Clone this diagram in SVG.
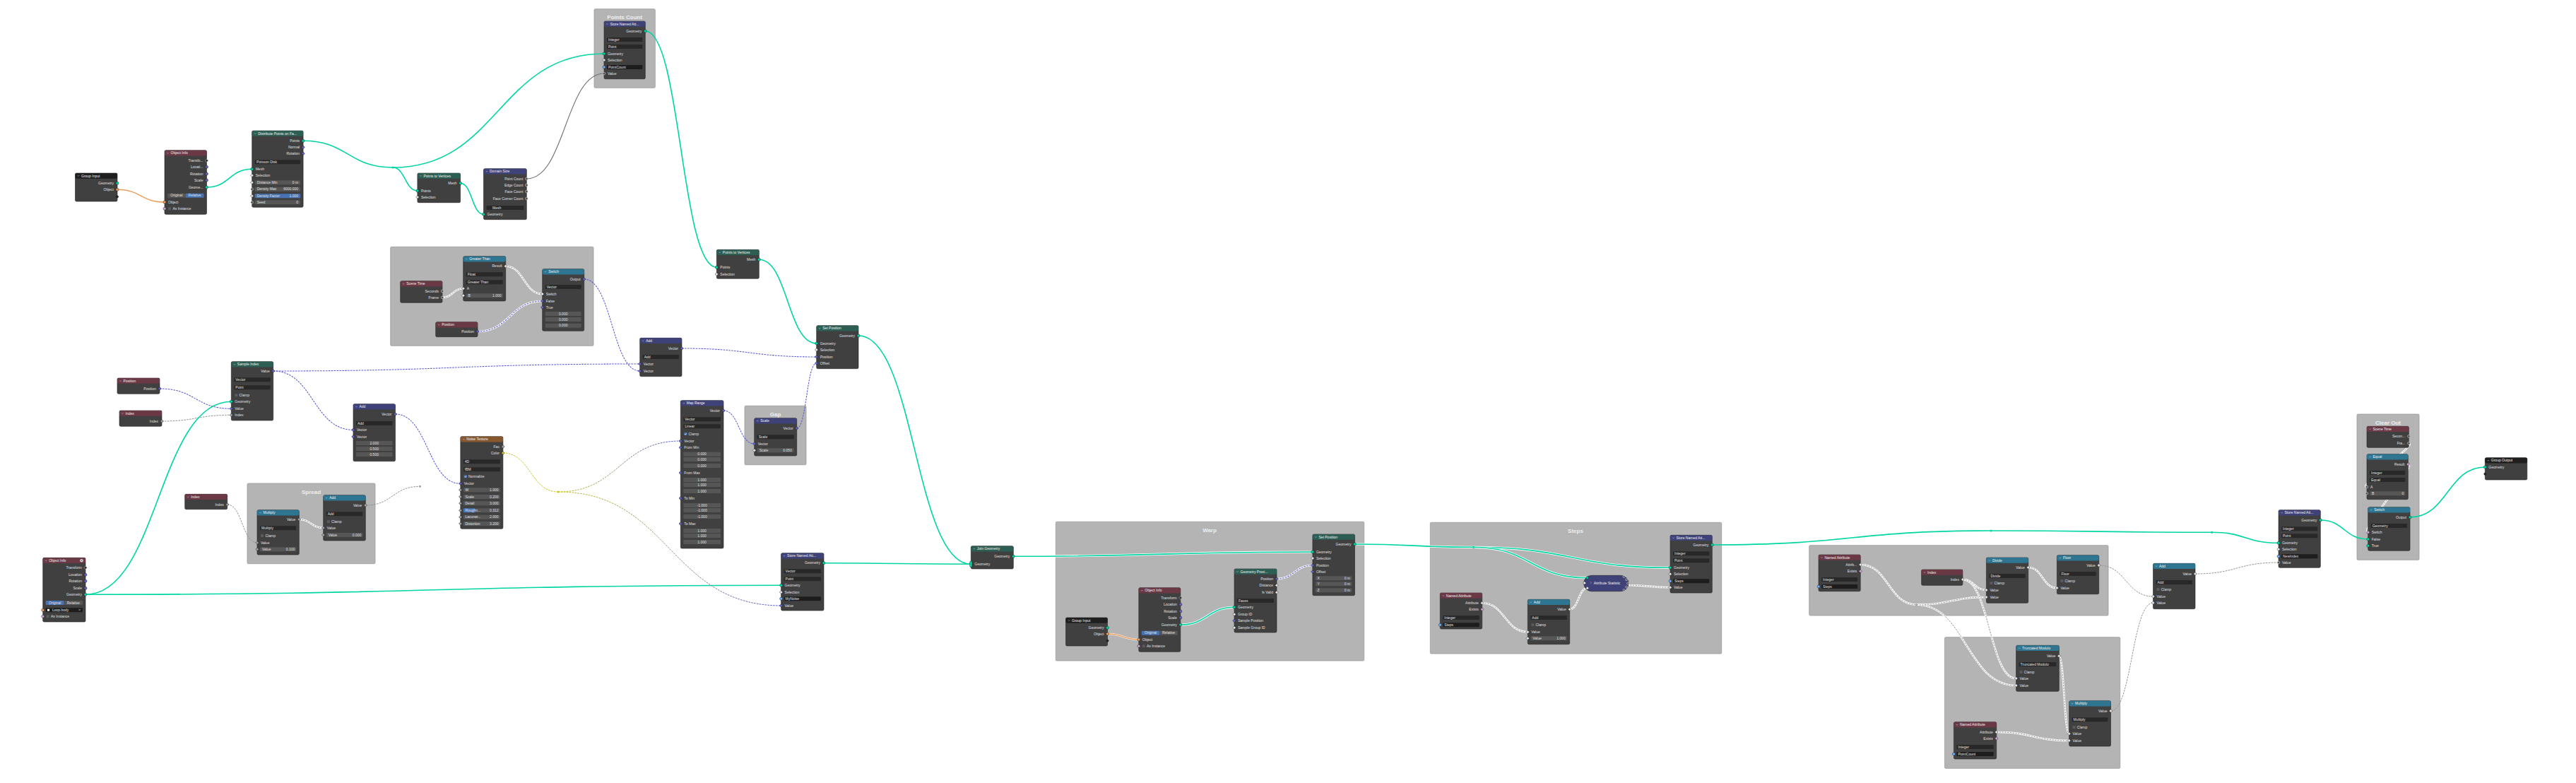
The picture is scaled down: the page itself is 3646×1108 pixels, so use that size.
<svg xmlns="http://www.w3.org/2000/svg" width="3646" height="1108" viewBox="0 0 3646 1108">
<defs>
<style>
.nb{fill:#404040;stroke:#242424;stroke-width:.6;rx:1.8px}
.hd{rx:1.8px}
.hIn{fill:#6a3945}.hGeo{fill:#2c5e54}.hAt{fill:#3f4279}.hCv{fill:#2e7591}.hTx{fill:#87582d}.hGr{fill:#1f1f1f}
.fr{fill:#b4b4b4;stroke:#9c9c9c;stroke-width:.8;rx:1.5px}
.ft{font:bold 8px "Liberation Sans",Arial,sans-serif;fill:#efefef;text-anchor:middle}
.t{font:5px "Liberation Sans",Arial,sans-serif;fill:#e0e0e0}
.h{fill:#f2f2f2}
.r{text-anchor:end}.c{text-anchor:middle}
.dd{fill:#282828;rx:1px}.fd{fill:#565656;rx:1px}.fh{fill:#4772b3;rx:1px}.nf{fill:#1d1d1d;rx:1px}
.cb{fill:#5a5a5a;rx:.6px}.ck{fill:#4772b3;rx:.6px}
.s{stroke:#151515;stroke-width:.45}
.sG{fill:#00d6a3}.sF{fill:#a1a1a1}.sV{fill:#6363c7}.sO{fill:#ed9e5c}.sS{fill:#70b2ff}.sB{fill:#cca6d6}.sW{fill:#e6e6e6}.sY{fill:#c7c729}
.sH{fill:#505050;stroke:#dedede;stroke-width:.55}.sM{fill:#333;stroke:#cfcfcf;stroke-width:.5}.sK{fill:#262626}
.l{fill:none}
.lG{stroke:#00d6a3;stroke-width:1.6}
.lGw{stroke:#ffffff;stroke-width:3.2}
.lV{stroke:#5c5cd0;stroke-width:1.05;stroke-dasharray:2.6 1.3}
.lF{stroke:#959595;stroke-width:1;stroke-dasharray:2.6 1.3}
.lW{stroke:#ffffff;stroke-width:2.6}
.lWc{stroke:#8c8c8c;stroke-width:.9;stroke-dasharray:2.4 1.4}
.lO{stroke:#ed9e5c;stroke-width:1.4}
.lI{stroke:#6f6f6f;stroke-width:1.1}
.chv{fill:none;stroke:#d8d8d8;stroke-width:.5}
.ckm{fill:none;stroke:#fff;stroke-width:.6}
</style>
<path id="dm" d="M0,-2.3L2.3,0L0,2.3L-2.3,0Z"/>
<path id="chv" class="chv" d="M-1.2,-0.6L0,0.6L1.2,-0.6"/>
<linearGradient id="gYV1" gradientUnits="userSpaceOnUse" x1="790" y1="0" x2="963" y2="0"><stop offset="0" stop-color="#c7c729"/><stop offset="1" stop-color="#5c5cd0"/></linearGradient>
<linearGradient id="gYV2" gradientUnits="userSpaceOnUse" x1="790" y1="0" x2="1105" y2="0"><stop offset="0" stop-color="#c7c729"/><stop offset="1" stop-color="#5c5cd0"/></linearGradient>
</defs>
<rect width="3646" height="1108" fill="#ffffff"/>

<g id="frames">
<rect class="fr" x="841" y="12.7" width="86.3" height="111.6"/><text class="ft" x="884.2" y="26.5">Points Count</text>
<rect class="fr" x="552.7" y="349.3" width="287.3" height="140"/>
<rect class="fr" x="1054" y="574.3" width="87" height="83.4"/><text class="ft" x="1097.5" y="588.5">Gap</text>
<rect class="fr" x="350" y="684" width="181" height="113.7"/><text class="ft" x="440.5" y="698.5">Spread</text>
<rect class="fr" x="1494.3" y="738.3" width="436.4" height="196.7"/><text class="ft" x="1712" y="752.5">Warp</text>
<rect class="fr" x="2024.3" y="739.3" width="412.4" height="185.7"/><text class="ft" x="2230" y="753.5">Steps</text>
<rect class="fr" x="2560.7" y="771.7" width="423.3" height="99.3"/>
<rect class="fr" x="2752.5" y="901.7" width="248.2" height="185.6"/>
<rect class="fr" x="3336" y="586" width="88" height="206.3"/><text class="ft" x="3380" y="600.5">Clear Out</text>
</g>

<g id="connectors">
<path class="l lO" d="M166,268.3C199.5,268.3 199.5,286 233,286"/>
<path class="l lG" d="M292.5,265C324.6,265 324.6,239.3 356.7,239.3"/>
<path class="l lG" d="M429.1,199.3C492.6,199.3 492.5,237 556,237"/>
<path class="l lG" d="M556,237C705.5,237 705.5,76 855,76"/>
<path class="l lG" d="M556,237C573.5,237 573.4,270 590.9,270"/>
<path class="l lG" d="M651.6,259.3C668.1,259.3 668,303.3 684.5,303.3"/>
<path class="l lI" d="M745.3,253C800.2,253 800.1,104 855,104"/>
<path class="l lG" d="M913.3,44C963.8,44 963.8,378.3 1014.3,378.3"/>
<path class="l lG" d="M1074.3,367.3C1115,367.3 1115,486 1155.7,486"/>
<path class="l lG" d="M1215,475C1294.7,475 1294.6,798.3 1374.3,798.3"/>
<path class="l lW" d="M626,421C640.9,421 640.8,408.3 655.7,408.3"/><path class="l lWc" d="M626,421C640.9,421 640.8,408.3 655.7,408.3"/>
<path class="l lW" d="M715.7,376.7C741.7,376.7 741.7,416 767.7,416"/><path class="l lWc" d="M715.7,376.7C741.7,376.7 741.7,416 767.7,416"/>
<path class="l lW" d="M676,469C721.9,469 721.8,426 767.7,426"/><path class="l lV" d="M676,469C721.9,469 721.8,426 767.7,426"/>
<path class="l lV" d="M826.7,395C866.2,395 866.2,525 905.7,525"/>
<path class="l lV" d="M386.7,525C646.2,525 646.2,515 905.7,515"/>
<path class="l lV" d="M386.7,525C443.4,525 443.3,608.3 500,608.3"/>
<path class="l lV" d="M226,550C276.7,550 276.6,578.3 327.3,578.3"/>
<path class="l lF" d="M229,596C278.2,596 278.1,587.3 327.3,587.3"/>
<path class="l lG" d="M121,841.3C224.2,841.3 224.1,568.3 327.3,568.3"/>
<path class="l lG" d="M121,841.3C613.3,841.3 613.3,828.3 1105.6,828.3"/>
<path class="l lF" d="M321.7,714C342.9,714 342.8,768 364,768"/>
<path class="l lW" d="M423.3,735C440.5,735 440.5,747 457.7,747"/><path class="l lWc" d="M423.3,735C440.5,735 440.5,747 457.7,747"/>
<path class="l lF" d="M517.3,715C555.9,715 555.9,688.3 594.5,688.3"/>
<path class="l lV" d="M559.5,586C605.7,586 605.6,684.3 651.8,684.3"/>
<path class="l" style="stroke:#c7c729;stroke-width:1;stroke-dasharray:2.6 1.3" d="M711.9,641C750.9,641 751,696 790,696"/>
<path class="l" style="stroke:url(#gYV1);stroke-width:1;stroke-dasharray:2.6 1.3" d="M790,696C876.7,696 876.6,624 963.3,624"/>
<path class="l" style="stroke:url(#gYV2);stroke-width:1;stroke-dasharray:2.6 1.3" d="M790,696C947.8,696 947.8,857 1105.6,857"/>
<path class="l lV" d="M1024,581C1045.9,581 1045.8,628 1067.7,628"/>
<path class="l lV" d="M1127.7,606C1141.7,606 1141.7,514 1155.7,514"/>
<path class="l lV" d="M965,493C1060.4,493 1060.3,505 1155.7,505"/>
<path class="l lG" d="M1166,796.7C1270.2,796.7 1270.1,798.3 1374.3,798.3"/>
<path class="l lGw" d="M1434.3,787.3C1646.1,787.3 1646.1,781 1857.9,781"/><path class="l lG" d="M1434.3,787.3C1646.1,787.3 1646.1,781 1857.9,781"/>
<path class="l lW" d="M1567.5,897C1589.7,897 1589.6,905 1611.8,905"/><path class="l lO" d="M1567.5,897C1589.7,897 1589.6,905 1611.8,905"/>
<path class="l lGw" d="M1670.8,884C1708.9,884 1708.9,859.3 1747,859.3"/><path class="l lG" d="M1670.8,884C1708.9,884 1708.9,859.3 1747,859.3"/>
<path class="l lW" d="M1807,819C1832.5,819 1832.4,800 1857.9,800"/><path class="l lV" d="M1807,819C1832.5,819 1832.4,800 1857.9,800"/>
<path class="l lGw" d="M1917.5,770C2001.6,770 2001.6,774.3 2085.7,774.3"/><path class="l lG" d="M1917.5,770C2001.6,770 2001.6,774.3 2085.7,774.3"/>
<path class="l lGw" d="M2085.7,774.3C2224.9,774.3 2224.8,803.3 2364,803.3"/><path class="l lG" d="M2085.7,774.3C2224.9,774.3 2224.8,803.3 2364,803.3"/>
<path class="l lGw" d="M2085.7,774.3C2166.2,774.3 2166.2,817.7 2246.7,817.7"/><path class="l lG" d="M2085.7,774.3C2166.2,774.3 2166.2,817.7 2246.7,817.7"/>
<path class="l lW" d="M2097.7,853.3C2130,853.3 2130,894.3 2162.3,894.3"/><path class="l lWc" d="M2097.7,853.3C2130,853.3 2130,894.3 2162.3,894.3"/>
<path class="l lW" d="M2221.7,862.3C2234.2,862.3 2234.2,832.3 2246.7,832.3"/><path class="l lWc" d="M2221.7,862.3C2234.2,862.3 2234.2,832.3 2246.7,832.3"/>
<path class="l lW" d="M2303,828C2333.5,828 2333.5,831.3 2364,831.3"/><path class="l lWc" d="M2303,828C2333.5,828 2333.5,831.3 2364,831.3"/>
<path class="l lG" d="M2423.3,771C2620.7,771 2620.6,751 2818,751"/>
<path class="l lG" d="M2818,751C2974,751 2974,753.3 3130.7,753.3"/>
<path class="l lG" d="M3130.7,753.3C3177.9,753.3 3177.8,768.3 3225,768.3"/>
<path class="l lW" d="M2633.2,799C2672.9,799 2672.8,855.7 2712.5,855.7"/><path class="l lWc" d="M2633.2,799C2672.9,799 2672.8,855.7 2712.5,855.7"/>
<path class="l lW" d="M2712.5,855.7C2762,855.7 2761.9,845 2811.4,845"/><path class="l lWc" d="M2712.5,855.7C2762,855.7 2761.9,845 2811.4,845"/>
<path class="l lW" d="M2712.5,855.7C2783.1,855.7 2783,970 2853.6,970"/><path class="l lWc" d="M2712.5,855.7C2783.1,855.7 2783,970 2853.6,970"/>
<path class="l lW" d="M2777.9,820C2794.7,820 2794.6,835 2811.4,835"/><path class="l lWc" d="M2777.9,820C2794.7,820 2794.6,835 2811.4,835"/>
<path class="l lW" d="M2777.9,820C2815.8,820 2815.7,960 2853.6,960"/><path class="l lWc" d="M2777.9,820C2815.8,820 2815.7,960 2853.6,960"/>
<path class="l lW" d="M2870.7,803C2891.1,803 2891,832 2911.4,832"/><path class="l lWc" d="M2870.7,803C2891.1,803 2891,832 2911.4,832"/>
<path class="l lF" d="M2970.7,800C3009.1,800 3009.1,844 3047.5,844"/>
<path class="l lW" d="M2914.3,928.3C2921.5,928.3 2921.4,1038.3 2928.6,1038.3"/><path class="l lWc" d="M2914.3,928.3C2921.5,928.3 2921.4,1038.3 2928.6,1038.3"/>
<path class="l lW" d="M2825.7,1036C2877.2,1036 2877.1,1048 2928.6,1048"/><path class="l lWc" d="M2825.7,1036C2877.2,1036 2877.1,1048 2928.6,1048"/>
<path class="l lF" d="M2987.5,1006C3017.5,1006 3017.5,853 3047.5,853"/>
<path class="l lF" d="M3107,812C3166,812 3166,796 3225,796"/>
<path class="l lG" d="M3284.3,736C3318,736 3318,763 3351.7,763"/>
<path class="l lG" d="M3411,732C3464.2,732 3464.1,661 3517.3,661"/>
<path class="l lW" d="M3409.3,627.3C3423.3,627.3 3336,689 3350,689"/><path class="l lWc" d="M3409.3,627.3C3423.3,627.3 3336,689 3350,689"/>
<path class="l lW" d="M3408.3,657C3422.3,657 3337.7,753.3 3351.7,753.3"/><path class="l lWc" d="M3408.3,657C3422.3,657 3337.7,753.3 3351.7,753.3"/>
<circle class="sG" cx="556" cy="237" r="1.6"/>
<circle class="sF" cx="594.5" cy="688.3" r="1.5"/>
<circle class="sY" cx="790" cy="696" r="1.5"/>
<circle class="sG" cx="2085.7" cy="774.3" r="1.6"/>
<circle class="sF" cx="2712.5" cy="855.7" r="1.5"/>
<circle class="sG" cx="2818" cy="751" r="1.6"/>
<circle class="sG" cx="3130.7" cy="753.3" r="1.6"/>
</g>

<g id="group-input-top">
<rect class="nb" x="106.5" y="245" width="59.5" height="40"/>
<rect class="hd hGr" x="106.5" y="245" width="59.5" height="7.7"/>
<use href="#chv" x="111" y="248.8"/>
<text class="t h" x="115" y="250.6">Group Input</text>
<text class="t r" x="161" y="261">Geometry</text>
<text class="t r" x="161" y="270">Object</text>
<circle class="s sG" cx="166" cy="259.3" r="2"/>
<circle class="s sO" cx="166" cy="268.3" r="2"/>
<circle class="s sK" cx="166" cy="278.3" r="1.6"/>
</g>

<g id="object-info-top">
<rect class="nb" x="233" y="212.7" width="59.5" height="90.6"/>
<rect class="hd hIn" x="233" y="212.7" width="59.5" height="7.7"/>
<use href="#chv" x="237.5" y="216.6"/>
<text class="t h" x="241.5" y="218.3">Object Info</text>
<text class="t r" x="287.5" y="229">Transfo...</text>
<text class="t r" x="287.5" y="238">Locati...</text>
<text class="t r" x="287.5" y="247.7">Rotation</text>
<text class="t r" x="287.5" y="256.7">Scale</text>
<text class="t r" x="287.5" y="266.7">Geome...</text>
<rect class="fd" x="237" y="273.7" width="25.7" height="6"/>
<rect class="fh" x="262.7" y="273.7" width="25.8" height="6"/>
<text class="t c" x="249.9" y="278.4">Original</text>
<text class="t c" x="275.6" y="278.4">Relative</text>
<text class="t" x="238" y="287.7">Object</text>
<rect class="cb" x="238" y="293.3" width="4" height="4"/>
<text class="t" x="244.5" y="297">As Instance</text>
<use href="#dm" class="s sM" x="292.5" y="227.3"/>
<circle class="s sV" cx="292.5" cy="236.3" r="2"/>
<circle class="s sV" cx="292.5" cy="246" r="2"/>
<circle class="s sV" cx="292.5" cy="255" r="2"/>
<circle class="s sG" cx="292.5" cy="265" r="2"/>
<circle class="s sO" cx="233" cy="286" r="2"/>
<circle class="s sB" cx="233" cy="295.3" r="2"/>
</g>

<g id="distribute-points">
<rect class="nb" x="356.7" y="185" width="72.4" height="108.3"/>
<rect class="hd hGeo" x="356.7" y="185" width="72.4" height="7.7"/>
<use href="#chv" x="361.2" y="188.9"/>
<text class="t h" x="365.2" y="190.6">Distribute Points on Fa...</text>
<text class="t r" x="424.1" y="201">Points</text>
<text class="t r" x="424.1" y="210">Normal</text>
<text class="t r" x="424.1" y="219">Rotation</text>
<rect class="dd" x="360.7" y="226.3" width="64.4" height="6"/>
<text class="t" x="363" y="231">Poisson Disk</text>
<text class="t" x="361.7" y="241">Mesh</text>
<text class="t" x="361.7" y="250">Selection</text>
<rect class="fd" x="360.7" y="255.3" width="64.4" height="6"/>
<text class="t" x="363.7" y="260">Distance Min</text><text class="t r" x="422.1" y="260">0 m</text>
<rect class="fd" x="360.7" y="264.7" width="64.4" height="6"/>
<text class="t" x="363.7" y="269.4">Density Max</text><text class="t r" x="422.1" y="269.4">6000.000</text>
<rect class="fh" x="360.7" y="274.3" width="64.4" height="6"/>
<text class="t" x="363.7" y="279">Density Factor</text><text class="t r" x="422.1" y="279">1.000</text>
<rect class="fd" x="360.7" y="283.3" width="64.4" height="6"/>
<text class="t" x="363.7" y="288">Seed</text><text class="t r" x="422.1" y="288">0</text>
<circle class="s sG" cx="429.1" cy="199.3" r="2"/>
<use href="#dm" class="s sV" x="429.1" y="208.3"/>
<use href="#dm" class="s sV" x="429.1" y="217.3"/>
<circle class="s sG" cx="356.7" cy="239.3" r="2"/>
<use href="#dm" class="s sW" x="356.7" y="248.3"/>
<use href="#dm" class="s sW" x="356.7" y="258.3"/>
<circle class="s sH" cx="356.7" cy="267.7" r="1.8"/>
<use href="#dm" class="s sW" x="356.7" y="277.3"/>
<circle class="s sH" cx="356.7" cy="286.3" r="1.8"/>
</g>

<g id="points-to-vertices-1">
<rect class="nb" x="590.9" y="245" width="60.7" height="41.7"/>
<rect class="hd hGeo" x="590.9" y="245" width="60.7" height="7.7"/>
<use href="#chv" x="595.4" y="248.9"/>
<text class="t h" x="599.4" y="250.6">Points to Vertices</text>
<text class="t r" x="646.6" y="261">Mesh</text>
<text class="t" x="595.9" y="271.7">Points</text>
<text class="t" x="595.9" y="280.7">Selection</text>
<circle class="s sG" cx="651.6" cy="259.3" r="2"/>
<circle class="s sG" cx="590.9" cy="270" r="2"/>
<use href="#dm" class="s sW" x="590.9" y="279"/>
</g>

<g id="domain-size">
<rect class="nb" x="684.5" y="238.7" width="60.8" height="72"/>
<rect class="hd hAt" x="684.5" y="238.7" width="60.8" height="7.7"/>
<use href="#chv" x="689" y="242.6"/>
<text class="t h" x="693" y="244.3">Domain Size</text>
<text class="t r" x="740.3" y="254.7">Point Count</text>
<text class="t r" x="740.3" y="263.7">Edge Count</text>
<text class="t r" x="740.3" y="272.7">Face Count</text>
<text class="t r" x="740.3" y="282.7">Face Corner Count</text>
<rect class="dd" x="688.5" y="291" width="52.8" height="6"/>
<text class="t" x="697" y="295.7">Mesh</text>
<text class="t" x="689.5" y="305">Geometry</text>
<circle class="s sH" cx="745.3" cy="253" r="1.8"/>
<circle class="s sH" cx="745.3" cy="262" r="1.8"/>
<circle class="s sH" cx="745.3" cy="271" r="1.8"/>
<circle class="s sH" cx="745.3" cy="281" r="1.8"/>
<circle class="s sG" cx="684.5" cy="303.3" r="2"/>
</g>

<g id="store-named-pointcount">
<rect class="nb" x="855" y="30" width="58.3" height="81.7"/>
<rect class="hd hAt" x="855" y="30" width="58.3" height="7.7"/>
<use href="#chv" x="859.5" y="33.9"/>
<text class="t h" x="863.5" y="35.6">Store Named Att...</text>
<text class="t r" x="908.3" y="45.7">Geometry</text>
<rect class="dd" x="859" y="53" width="50.3" height="6"/><text class="t" x="861" y="57.7">Integer</text>
<rect class="dd" x="859" y="63" width="50.3" height="6"/><text class="t" x="861" y="67.7">Point</text>
<text class="t" x="860" y="77.7">Geometry</text>
<text class="t" x="860" y="86.7">Selection</text>
<rect class="nf" x="859" y="92" width="50.3" height="6"/><text class="t" x="861" y="96.7">PointCount</text>
<text class="t" x="860" y="105.7">Value</text>
<circle class="s sG" cx="913.3" cy="44" r="2"/>
<circle class="s sG" cx="855" cy="76" r="2"/>
<use href="#dm" class="s sW" x="855" y="85"/>
<circle class="s sS" cx="855" cy="95" r="2"/>
<circle class="s sH" cx="855" cy="104" r="1.8"/>
</g>

<g id="points-to-vertices-2">
<rect class="nb" x="1014.3" y="353.3" width="60" height="41"/>
<rect class="hd hGeo" x="1014.3" y="353.3" width="60" height="7.7"/>
<use href="#chv" x="1018.8" y="357.2"/>
<text class="t h" x="1022.8" y="358.9">Points to Vertices</text>
<text class="t r" x="1069.3" y="369">Mesh</text>
<text class="t" x="1019.3" y="380">Points</text>
<text class="t" x="1019.3" y="389.7">Selection</text>
<circle class="s sG" cx="1074.3" cy="367.3" r="2"/>
<circle class="s sG" cx="1014.3" cy="378.3" r="2"/>
<use href="#dm" class="s sW" x="1014.3" y="388"/>
</g>

<g id="scene-time-1">
<rect class="nb" x="566.7" y="397.7" width="59.3" height="30.6"/>
<rect class="hd hIn" x="566.7" y="397.7" width="59.3" height="7.7"/>
<use href="#chv" x="571.2" y="401.6"/>
<text class="t h" x="575.2" y="403.3">Scene Time</text>
<text class="t r" x="621" y="413.7">Seconds</text>
<text class="t r" x="621" y="422.7">Frame</text>
<circle class="s sH" cx="626" cy="412" r="1.8"/>
<circle class="s sH" cx="626" cy="421" r="1.8"/>
</g>

<g id="greater-than">
<rect class="nb" x="655.7" y="362.7" width="60" height="63.3"/>
<rect class="hd hCv" x="655.7" y="362.7" width="60" height="7.7"/>
<use href="#chv" x="660.2" y="366.6"/>
<text class="t h" x="664.2" y="368.3">Greater Than</text>
<text class="t r" x="710.7" y="378.4">Result</text>
<rect class="dd" x="659.7" y="385.3" width="52" height="6"/><text class="t" x="661.7" y="390">Float</text>
<rect class="dd" x="659.7" y="396.3" width="52" height="6"/><text class="t" x="661.7" y="401">Greater Than</text>
<text class="t" x="660.7" y="410">A</text>
<rect class="fd" x="659.7" y="415.3" width="52" height="6"/>
<text class="t" x="662.5" y="420">B</text><text class="t r" x="709.5" y="420">1.000</text>
<use href="#dm" class="s sW" x="715.7" y="376.7"/>
<use href="#dm" class="s sW" x="655.7" y="408.3"/>
<use href="#dm" class="s sW" x="655.7" y="418.3"/>
</g>

<g id="switch-vector">
<rect class="nb" x="767.7" y="380.7" width="59" height="87.6"/>
<rect class="hd hCv" x="767.7" y="380.7" width="59" height="7.7"/>
<use href="#chv" x="772.2" y="384.6"/>
<text class="t h" x="776.2" y="386.3">Switch</text>
<text class="t r" x="821.7" y="396.7">Output</text>
<rect class="dd" x="771.7" y="403" width="51" height="6"/><text class="t" x="773.7" y="407.7">Vector</text>
<text class="t" x="772.7" y="417.7">Switch</text>
<text class="t" x="772.7" y="427.7">False</text>
<text class="t" x="772.7" y="436.7">True</text>
<rect class="fd" x="771.7" y="441" width="51" height="6"/><text class="t c" x="797.2" y="445.7">0.000</text>
<rect class="fd" x="771.7" y="449" width="51" height="6"/><text class="t c" x="797.2" y="453.7">0.000</text>
<rect class="fd" x="771.7" y="457.7" width="51" height="6"/><text class="t c" x="797.2" y="462.4">0.000</text>
<use href="#dm" class="s sV" x="826.7" y="395"/>
<use href="#dm" class="s sW" x="767.7" y="416"/>
<use href="#dm" class="s sV" x="767.7" y="426"/>
<use href="#dm" class="s sV" x="767.7" y="435"/>
</g>

<g id="position-frame">
<rect class="nb" x="616.7" y="455.7" width="59.3" height="21"/>
<rect class="hd hIn" x="616.7" y="455.7" width="59.3" height="7.7"/>
<use href="#chv" x="621.2" y="459.6"/>
<text class="t h" x="625.2" y="461.3">Position</text>
<text class="t r" x="671" y="470.7">Position</text>
<use href="#dm" class="s sV" x="676" y="469"/>
</g>

<g id="add-vector-offset">
<rect class="nb" x="905.7" y="478.3" width="59.3" height="54.4"/>
<rect class="hd hAt" x="905.7" y="478.3" width="59.3" height="7.7"/>
<use href="#chv" x="910.2" y="482.2"/>
<text class="t h" x="914.2" y="483.9">Add</text>
<text class="t r" x="960" y="494.7">Vector</text>
<rect class="dd" x="909.7" y="502" width="51.3" height="6"/><text class="t" x="911.7" y="506.7">Add</text>
<text class="t" x="910.7" y="516.7">Vector</text>
<text class="t" x="910.7" y="526.7">Vector</text>
<use href="#dm" class="s sV" x="965" y="493"/>
<use href="#dm" class="s sV" x="905.7" y="515"/>
<use href="#dm" class="s sV" x="905.7" y="525"/>
</g>

<g id="set-position-1">
<rect class="nb" x="1155.7" y="460.7" width="59.3" height="61"/>
<rect class="hd hGeo" x="1155.7" y="460.7" width="59.3" height="7.7"/>
<use href="#chv" x="1160.2" y="464.6"/>
<text class="t h" x="1164.2" y="466.3">Set Position</text>
<text class="t r" x="1210" y="476.7">Geometry</text>
<text class="t" x="1160.7" y="487.7">Geometry</text>
<text class="t" x="1160.7" y="496.7">Selection</text>
<text class="t" x="1160.7" y="506.7">Position</text>
<text class="t" x="1160.7" y="515.7">Offset</text>
<circle class="s sG" cx="1215" cy="475" r="2"/>
<circle class="s sG" cx="1155.7" cy="486" r="2"/>
<use href="#dm" class="s sW" x="1155.7" y="495"/>
<use href="#dm" class="s sV" x="1155.7" y="505"/>
<use href="#dm" class="s sV" x="1155.7" y="514"/>
</g>

<g id="map-range">
<rect class="nb" x="963.3" y="566.7" width="60.7" height="209.3"/>
<rect class="hd hAt" x="963.3" y="566.7" width="60.7" height="7.7"/>
<use href="#chv" x="967.8" y="570.6"/>
<text class="t h" x="971.8" y="572.3">Map Range</text>
<text class="t r" x="1019" y="582.7">Vector</text>
<rect class="dd" x="967.3" y="590.3" width="52.7" height="6"/><text class="t" x="969.3" y="595">Vector</text>
<rect class="dd" x="967.3" y="600.3" width="52.7" height="6"/><text class="t" x="969.3" y="605">Linear</text>
<rect class="ck" x="968.3" y="612" width="4" height="4"/><path class="ckm" d="M969,614.1l1.1,1.1l1.7,-2.2"/>
<text class="t" x="974.5" y="615.7">Clamp</text>
<text class="t" x="968.3" y="625.7">Vector</text>
<text class="t" x="968.3" y="635">From Min</text>
<rect class="fd" x="967.3" y="639.7" width="52.7" height="6"/><text class="t c" x="993.6" y="644.4">0.000</text>
<rect class="fd" x="967.3" y="647" width="52.7" height="6"/><text class="t c" x="993.6" y="651.7">0.000</text>
<rect class="fd" x="967.3" y="656" width="52.7" height="6"/><text class="t c" x="993.6" y="660.7">0.000</text>
<text class="t" x="968.3" y="670.7">From Max</text>
<rect class="fd" x="967.3" y="676" width="52.7" height="6"/><text class="t c" x="993.6" y="680.7">1.000</text>
<rect class="fd" x="967.3" y="683" width="52.7" height="6"/><text class="t c" x="993.6" y="687.7">1.000</text>
<rect class="fd" x="967.3" y="692" width="52.7" height="6"/><text class="t c" x="993.6" y="696.7">1.000</text>
<text class="t" x="968.3" y="706.7">To Min</text>
<rect class="fd" x="967.3" y="712" width="52.7" height="6"/><text class="t c" x="993.6" y="716.7">-1.000</text>
<rect class="fd" x="967.3" y="719" width="52.7" height="6"/><text class="t c" x="993.6" y="723.7">-1.000</text>
<rect class="fd" x="967.3" y="728" width="52.7" height="6"/><text class="t c" x="993.6" y="732.7">-1.000</text>
<text class="t" x="968.3" y="742.7">To Max</text>
<rect class="fd" x="967.3" y="748" width="52.7" height="6"/><text class="t c" x="993.6" y="752.7">1.000</text>
<rect class="fd" x="967.3" y="755" width="52.7" height="6"/><text class="t c" x="993.6" y="759.7">1.000</text>
<rect class="fd" x="967.3" y="764" width="52.7" height="6"/><text class="t c" x="993.6" y="768.7">1.000</text>
<use href="#dm" class="s sV" x="1024" y="581"/>
<use href="#dm" class="s sV" x="963.3" y="624"/>
<use href="#dm" class="s sV" x="963.3" y="633.3"/>
<use href="#dm" class="s sV" x="963.3" y="669"/>
<use href="#dm" class="s sV" x="963.3" y="705"/>
<use href="#dm" class="s sV" x="963.3" y="741"/>
</g>

<g id="scale-gap">
<rect class="nb" x="1067.7" y="591.7" width="60" height="53.3"/>
<rect class="hd hAt" x="1067.7" y="591.7" width="60" height="7.7"/>
<use href="#chv" x="1072.2" y="595.6"/>
<text class="t h" x="1076.2" y="597.3">Scale</text>
<text class="t r" x="1122.7" y="607.7">Vector</text>
<rect class="dd" x="1071.7" y="615.3" width="52" height="6"/><text class="t" x="1073.7" y="620">Scale</text>
<text class="t" x="1072.7" y="629.7">Vector</text>
<rect class="fd" x="1071.7" y="634.3" width="52" height="6"/>
<text class="t" x="1074.7" y="639">Scale</text><text class="t r" x="1120.7" y="639">0.050</text>
<use href="#dm" class="s sV" x="1127.7" y="606"/>
<use href="#dm" class="s sV" x="1067.7" y="628"/>
<use href="#dm" class="s sW" x="1067.7" y="637.3"/>
</g>

<g id="noise-texture">
<rect class="nb" x="651.8" y="617.7" width="60.1" height="130.6"/>
<rect class="hd hTx" x="651.8" y="617.7" width="60.1" height="7.7"/>
<use href="#chv" x="656.3" y="621.6"/>
<text class="t h" x="660.3" y="623.3">Noise Texture</text>
<text class="t r" x="706.9" y="633.7">Fac</text>
<text class="t r" x="706.9" y="642.7">Color</text>
<rect class="dd" x="655.8" y="650.3" width="52.1" height="6"/><text class="t" x="657.8" y="655">4D</text>
<rect class="dd" x="655.8" y="661.3" width="52.1" height="6"/><text class="t" x="657.8" y="666">fBM</text>
<rect class="ck" x="656.8" y="672.3" width="4" height="4"/><path class="ckm" d="M657.5,674.4l1.1,1.1l1.7,-2.2"/>
<text class="t" x="663" y="676">Normalize</text>
<text class="t" x="656.8" y="686">Vector</text>
<rect class="fd" x="655.8" y="690.3" width="52.1" height="6"/><text class="t" x="658.5" y="695">W</text><text class="t r" x="705.5" y="695">1.000</text>
<rect class="fd" x="655.8" y="700" width="52.1" height="6"/><text class="t" x="658.5" y="704.7">Scale</text><text class="t r" x="705.5" y="704.7">0.200</text>
<rect class="fd" x="655.8" y="709.3" width="52.1" height="6"/><text class="t" x="658.5" y="714">Detail</text><text class="t r" x="705.5" y="714">3.000</text>
<rect class="fd" x="655.8" y="719.3" width="52.1" height="6"/><rect class="fh" x="655.8" y="719.3" width="17" height="6"/><text class="t" x="658.5" y="724">Roughn...</text><text class="t r" x="705.5" y="724">0.312</text>
<rect class="fd" x="655.8" y="728.7" width="52.1" height="6"/><text class="t" x="658.5" y="733.4">Lacunar...</text><text class="t r" x="705.5" y="733.4">2.000</text>
<rect class="fd" x="655.8" y="738" width="52.1" height="6"/><text class="t" x="658.5" y="742.7">Distortion</text><text class="t r" x="705.5" y="742.7">3.200</text>
<use href="#dm" class="s sF" x="711.9" y="632"/>
<use href="#dm" class="s sY" x="711.9" y="641"/>
<use href="#dm" class="s sV" x="651.8" y="684.3"/>
<use href="#dm" class="s sF" x="651.8" y="693.3"/>
<use href="#dm" class="s sF" x="651.8" y="703"/>
<use href="#dm" class="s sF" x="651.8" y="712.3"/>
<use href="#dm" class="s sF" x="651.8" y="722.3"/>
<use href="#dm" class="s sF" x="651.8" y="731.7"/>
<use href="#dm" class="s sF" x="651.8" y="741"/>
</g>

<g id="add-vector-noise">
<rect class="nb" x="500" y="571.7" width="59.5" height="81"/>
<rect class="hd hAt" x="500" y="571.7" width="59.5" height="7.7"/>
<use href="#chv" x="504.5" y="575.6"/>
<text class="t h" x="508.5" y="577.3">Add</text>
<text class="t r" x="554.5" y="587.7">Vector</text>
<rect class="dd" x="504" y="596" width="51.5" height="6"/><text class="t" x="506" y="600.7">Add</text>
<text class="t" x="505" y="610">Vector</text>
<text class="t" x="505" y="619.7">Vector</text>
<rect class="fd" x="504" y="624" width="51.5" height="6"/><text class="t c" x="529.7" y="628.7">2.000</text>
<rect class="fd" x="504" y="632" width="51.5" height="6"/><text class="t c" x="529.7" y="636.7">0.500</text>
<rect class="fd" x="504" y="640" width="51.5" height="6"/><text class="t c" x="529.7" y="644.7">0.500</text>
<use href="#dm" class="s sV" x="559.5" y="586"/>
<use href="#dm" class="s sV" x="500" y="608.3"/>
<use href="#dm" class="s sV" x="500" y="618"/>
</g>

<g id="sample-index">
<rect class="nb" x="327.3" y="511.7" width="59.4" height="83.3"/>
<rect class="hd hGeo" x="327.3" y="511.7" width="59.4" height="7.7"/>
<use href="#chv" x="331.8" y="515.6"/>
<text class="t h" x="335.8" y="517.3">Sample Index</text>
<text class="t r" x="381.7" y="526.7">Value</text>
<rect class="dd" x="331.3" y="534.3" width="51.4" height="6"/><text class="t" x="333.3" y="539">Vector</text>
<rect class="dd" x="331.3" y="545.3" width="51.4" height="6"/><text class="t" x="333.3" y="550">Point</text>
<rect class="cb" x="332.3" y="557.3" width="4" height="4"/><text class="t" x="338.5" y="561">Clamp</text>
<text class="t" x="332.3" y="570">Geometry</text>
<text class="t" x="332.3" y="580">Value</text>
<text class="t" x="332.3" y="589">Index</text>
<use href="#dm" class="s sV" x="386.7" y="525"/>
<circle class="s sG" cx="327.3" cy="568.3" r="2"/>
<use href="#dm" class="s sV" x="327.3" y="578.3"/>
<use href="#dm" class="s sF" x="327.3" y="587.3"/>
</g>

<g id="position-left">
<rect class="nb" x="166" y="535" width="60" height="22.3"/>
<rect class="hd hIn" x="166" y="535" width="60" height="7.7"/>
<use href="#chv" x="170.5" y="538.9"/>
<text class="t h" x="174.5" y="540.6">Position</text>
<text class="t r" x="221" y="551.7">Position</text>
<use href="#dm" class="s sV" x="226" y="550"/>
</g>

<g id="index-left">
<rect class="nb" x="169" y="581" width="60" height="22.3"/>
<rect class="hd hIn" x="169" y="581" width="60" height="7.7"/>
<use href="#chv" x="173.5" y="584.9"/>
<text class="t h" x="177.5" y="586.6">Index</text>
<text class="t r" x="224" y="597.7">Index</text>
<use href="#dm" class="s sF" x="229" y="596"/>
</g>

<g id="index-spread">
<rect class="nb" x="261.7" y="699.3" width="60" height="21.4"/>
<rect class="hd hIn" x="261.7" y="699.3" width="60" height="7.7"/>
<use href="#chv" x="266.2" y="703.2"/>
<text class="t h" x="270.2" y="704.9">Index</text>
<text class="t r" x="316.7" y="715.7">Index</text>
<use href="#dm" class="s sF" x="321.7" y="714"/>
</g>

<g id="multiply-spread">
<rect class="nb" x="364" y="721.7" width="59.3" height="63.3"/>
<rect class="hd hCv" x="364" y="721.7" width="59.3" height="7.7"/>
<use href="#chv" x="368.5" y="725.6"/>
<text class="t h" x="372.5" y="727.3">Multiply</text>
<text class="t r" x="418.3" y="736.7">Value</text>
<rect class="dd" x="368" y="744.3" width="51.3" height="6"/><text class="t" x="370" y="749">Multiply</text>
<rect class="cb" x="369" y="756" width="4" height="4"/><text class="t" x="375.5" y="759.7">Clamp</text>
<text class="t" x="369" y="769.7">Value</text>
<rect class="fd" x="368" y="774.3" width="51.3" height="6"/><text class="t" x="371" y="779">Value</text><text class="t r" x="417.3" y="779">0.100</text>
<use href="#dm" class="s sF" x="423.3" y="735"/>
<use href="#dm" class="s sF" x="364" y="768"/>
<use href="#dm" class="s sF" x="364" y="777.3"/>
</g>

<g id="add-spread">
<rect class="nb" x="457.7" y="700.7" width="59.6" height="64.3"/>
<rect class="hd hCv" x="457.7" y="700.7" width="59.6" height="7.7"/>
<use href="#chv" x="462.2" y="704.6"/>
<text class="t h" x="466.2" y="706.3">Add</text>
<text class="t r" x="512.3" y="716.7">Value</text>
<rect class="dd" x="461.7" y="724.3" width="51.6" height="6"/><text class="t" x="463.7" y="729">Add</text>
<rect class="cb" x="462.7" y="736" width="4" height="4"/><text class="t" x="469" y="739.7">Clamp</text>
<text class="t" x="462.7" y="748.7">Value</text>
<rect class="fd" x="461.7" y="754" width="51.6" height="6"/><text class="t" x="464.7" y="758.7">Value</text><text class="t r" x="511.3" y="758.7">0.000</text>
<use href="#dm" class="s sF" x="517.3" y="715"/>
<use href="#dm" class="s sF" x="457.7" y="747"/>
<use href="#dm" class="s sF" x="457.7" y="757"/>
</g>

<g id="object-info-loop">
<rect class="nb" x="60.7" y="789.3" width="60.3" height="90.7"/>
<rect class="hd hIn" x="60.7" y="789.3" width="60.3" height="7.7"/>
<use href="#chv" x="65.2" y="793.2"/>
<text class="t h" x="69.2" y="794.9">Object Info</text>
<circle cx="115.5" cy="793.2" r="2.3" fill="#e0e0e0"/>
<path d="M114.3,792l2.4,2.4M116.7,792l-2.4,2.4" stroke="#404040" stroke-width=".6"/>
<text class="t r" x="116" y="805">Transform</text>
<text class="t r" x="116" y="815">Location</text>
<text class="t r" x="116" y="824">Rotation</text>
<text class="t r" x="116" y="834">Scale</text>
<text class="t r" x="116" y="843">Geometry</text>
<rect class="fh" x="64.7" y="850" width="26" height="6"/>
<rect class="fd" x="90.7" y="850" width="26.3" height="6"/>
<text class="t c" x="77.7" y="854.7">Original</text>
<text class="t c" x="103.8" y="854.7">Relative</text>
<rect class="nf" x="64.7" y="860.3" width="52.3" height="6"/>
<rect x="67" y="861.8" width="3" height="3" fill="#f0f0f0"/>
<text class="t" x="74" y="865">Loop.body</text>
<path d="M111.5,861.9l2.2,2.2M113.7,861.9l-2.2,2.2" stroke="#cfcfcf" stroke-width=".5"/>
<rect class="cb" x="65.7" y="870.3" width="4" height="4"/>
<text class="t" x="72" y="874">As Instance</text>
<use href="#dm" class="s sM" x="121" y="803.3"/>
<circle class="s sV" cx="121" cy="813.3" r="2"/>
<circle class="s sV" cx="121" cy="822.3" r="2"/>
<circle class="s sV" cx="121" cy="832.3" r="2"/>
<circle class="s sG" cx="121" cy="841.3" r="2"/>
<circle class="s sO" cx="60.7" cy="863.3" r="2"/>
<circle class="s sB" cx="60.7" cy="872.3" r="2"/>
</g>

<g id="store-named-mynoise">
<rect class="nb" x="1105.6" y="782.7" width="60.4" height="81.3"/>
<rect class="hd hAt" x="1105.6" y="782.7" width="60.4" height="7.7"/>
<use href="#chv" x="1110.1" y="786.6"/>
<text class="t h" x="1114.1" y="788.3">Store Named Att...</text>
<text class="t r" x="1161" y="798.4">Geometry</text>
<rect class="dd" x="1109.6" y="805.3" width="52.4" height="6"/><text class="t" x="1111.6" y="810">Vector</text>
<rect class="dd" x="1109.6" y="816.3" width="52.4" height="6"/><text class="t" x="1111.6" y="821">Point</text>
<text class="t" x="1110.6" y="830">Geometry</text>
<text class="t" x="1110.6" y="839.7">Selection</text>
<rect class="nf" x="1109.6" y="844.3" width="52.4" height="6"/><text class="t" x="1111.6" y="849">MyNoise</text>
<text class="t" x="1110.6" y="858.7">Value</text>
<circle class="s sG" cx="1166" cy="796.7" r="2"/>
<circle class="s sG" cx="1105.6" cy="828.3" r="2"/>
<use href="#dm" class="s sW" x="1105.6" y="838"/>
<circle class="s sS" cx="1105.6" cy="847.3" r="2"/>
<use href="#dm" class="s sV" x="1105.6" y="857"/>
</g>

<g id="join-geometry">
<rect class="nb" x="1374.3" y="772.7" width="60" height="32.3"/>
<rect class="hd hGeo" x="1374.3" y="772.7" width="60" height="7.7"/>
<use href="#chv" x="1378.8" y="776.6"/>
<text class="t h" x="1382.8" y="778.3">Join Geometry</text>
<text class="t r" x="1429.3" y="789">Geometry</text>
<text class="t" x="1379.3" y="800">Geometry</text>
<circle class="s sG" cx="1434.3" cy="787.3" r="2"/>
<rect class="s sG" x="1372.6" y="794" width="3.4" height="8.6" rx="1.7"/>
</g>

<g id="set-position-warp">
<rect class="nb" x="1857.9" y="756" width="59.6" height="86.7"/>
<rect class="hd hGeo" x="1857.9" y="756" width="59.6" height="7.7"/>
<use href="#chv" x="1862.4" y="759.9"/>
<text class="t h" x="1866.4" y="761.6">Set Position</text>
<text class="t r" x="1912.5" y="771.7">Geometry</text>
<text class="t" x="1862.9" y="782.7">Geometry</text>
<text class="t" x="1862.9" y="791.7">Selection</text>
<text class="t" x="1862.9" y="801.7">Position</text>
<text class="t" x="1862.9" y="810.7">Offset</text>
<rect class="fd" x="1861.9" y="815.3" width="51.6" height="6"/><text class="t" x="1864.5" y="820">X</text><text class="t r" x="1911" y="820">0 m</text>
<rect class="fd" x="1861.9" y="823.3" width="51.6" height="6"/><text class="t" x="1864.5" y="828">Y</text><text class="t r" x="1911" y="828">0 m</text>
<rect class="fd" x="1861.9" y="832.3" width="51.6" height="6"/><text class="t" x="1864.5" y="837">Z</text><text class="t r" x="1911" y="837">0 m</text>
<circle class="s sG" cx="1917.5" cy="770" r="2"/>
<circle class="s sG" cx="1857.9" cy="781" r="2"/>
<use href="#dm" class="s sW" x="1857.9" y="790"/>
<use href="#dm" class="s sV" x="1857.9" y="800"/>
<use href="#dm" class="s sV" x="1857.9" y="809"/>
</g>

<g id="geometry-proximity">
<rect class="nb" x="1747" y="805" width="60" height="90"/>
<rect class="hd hGeo" x="1747" y="805" width="60" height="7.7"/>
<use href="#chv" x="1751.5" y="808.9"/>
<text class="t h" x="1755.5" y="810.6">Geometry Proxi...</text>
<text class="t r" x="1802" y="820.7">Position</text>
<text class="t r" x="1802" y="830">Distance</text>
<text class="t r" x="1802" y="840">Is Valid</text>
<rect class="dd" x="1751" y="847" width="52" height="6"/><text class="t" x="1753" y="851.7">Faces</text>
<text class="t" x="1752" y="861">Geometry</text>
<text class="t" x="1752" y="871">Group ID</text>
<text class="t" x="1752" y="880">Sample Position</text>
<text class="t" x="1752" y="890">Sample Group ID</text>
<use href="#dm" class="s sV" x="1807" y="819"/>
<use href="#dm" class="s sW" x="1807" y="828.3"/>
<use href="#dm" class="s sW" x="1807" y="838.3"/>
<circle class="s sG" cx="1747" cy="859.3" r="2"/>
<use href="#dm" class="s sW" x="1747" y="869.3"/>
<use href="#dm" class="s sV" x="1747" y="878.3"/>
<use href="#dm" class="s sW" x="1747" y="888.3"/>
</g>

<g id="object-info-warp">
<rect class="nb" x="1611.8" y="831.7" width="59" height="90.6"/>
<rect class="hd hIn" x="1611.8" y="831.7" width="59" height="7.7"/>
<use href="#chv" x="1616.3" y="835.6"/>
<text class="t h" x="1620.3" y="837.3">Object Info</text>
<text class="t r" x="1665.8" y="847.7">Transform</text>
<text class="t r" x="1665.8" y="857">Location</text>
<text class="t r" x="1665.8" y="866.7">Rotation</text>
<text class="t r" x="1665.8" y="875.7">Scale</text>
<text class="t r" x="1665.8" y="885.7">Geometry</text>
<rect class="fh" x="1615.8" y="892.7" width="25.5" height="6"/>
<rect class="fd" x="1641.3" y="892.7" width="25.5" height="6"/>
<text class="t c" x="1628.5" y="897.4">Original</text>
<text class="t c" x="1654" y="897.4">Relative</text>
<text class="t" x="1616.8" y="906.7">Object</text>
<rect class="cb" x="1616.8" y="912.3" width="4" height="4"/>
<text class="t" x="1623" y="916">As Instance</text>
<use href="#dm" class="s sM" x="1670.8" y="846"/>
<circle class="s sV" cx="1670.8" cy="855.3" r="2"/>
<circle class="s sV" cx="1670.8" cy="865" r="2"/>
<circle class="s sV" cx="1670.8" cy="874" r="2"/>
<circle class="s sG" cx="1670.8" cy="884" r="2"/>
<circle class="s sO" cx="1611.8" cy="905" r="2"/>
<circle class="s sB" cx="1611.8" cy="914.3" r="2"/>
</g>

<g id="group-input-warp">
<rect class="nb" x="1508.5" y="874" width="59" height="40"/>
<rect class="hd hGr" x="1508.5" y="874" width="59" height="7.7"/>
<use href="#chv" x="1513" y="877.9"/>
<text class="t h" x="1517" y="879.6">Group Input</text>
<text class="t r" x="1562.5" y="890">Geometry</text>
<text class="t r" x="1562.5" y="898.7">Object</text>
<circle class="s sG" cx="1567.5" cy="888.3" r="2"/>
<circle class="s sO" cx="1567.5" cy="897" r="2"/>
<circle class="s sK" cx="1567.5" cy="906.7" r="1.6"/>
</g>

<g id="store-named-steps">
<rect class="nb" x="2364" y="757.3" width="59.3" height="81.7"/>
<rect class="hd hAt" x="2364" y="757.3" width="59.3" height="7.7"/>
<use href="#chv" x="2368.5" y="761.2"/>
<text class="t h" x="2372.5" y="762.9">Store Named Att...</text>
<text class="t r" x="2418.3" y="772.7">Geometry</text>
<rect class="dd" x="2368" y="780.3" width="51.3" height="6"/><text class="t" x="2370" y="785">Integer</text>
<rect class="dd" x="2368" y="790.3" width="51.3" height="6"/><text class="t" x="2370" y="795">Point</text>
<text class="t" x="2369" y="805">Geometry</text>
<text class="t" x="2369" y="814">Selection</text>
<rect class="nf" x="2368" y="819.3" width="51.3" height="6"/><text class="t" x="2370" y="824">Steps</text>
<text class="t" x="2369" y="833">Value</text>
<circle class="s sG" cx="2423.3" cy="771" r="2"/>
<circle class="s sG" cx="2364" cy="803.3" r="2"/>
<use href="#dm" class="s sW" x="2364" y="812.3"/>
<circle class="s sS" cx="2364" cy="822.3" r="2"/>
<use href="#dm" class="s sW" x="2364" y="831.3"/>
</g>

<g id="attribute-statistic">
<rect x="2241.7" y="814.3" width="63.3" height="22.4" rx="11.2" fill="#3f4279" stroke="#242424" stroke-width=".6"/>
<path class="chv" d="M2251,823.4l1.2,1.2l-1.2,1.2"/>
<text class="t h c" x="2274.5" y="827.2">Attribute Statistic</text>
<circle class="s sG" cx="2246.7" cy="817.7" r="1.8"/>
<use href="#dm" class="s sW" x="2242.7" y="825"/>
<use href="#dm" class="s sW" x="2246.7" y="832.3"/>
<circle class="s sH" cx="2298.5" cy="816" r="1.5"/>
<circle class="s sH" cx="2302" cy="820.3" r="1.5"/>
<circle class="s sH" cx="2304" cy="825.5" r="1.5"/>
<circle class="s sH" cx="2302" cy="830.7" r="1.5"/>
<circle class="s sH" cx="2298.5" cy="835" r="1.5"/>
</g>

<g id="named-attribute-steps">
<rect class="nb" x="2038.3" y="839" width="59.4" height="51"/>
<rect class="hd hIn" x="2038.3" y="839" width="59.4" height="7.7"/>
<use href="#chv" x="2042.8" y="842.9"/>
<text class="t h" x="2046.8" y="844.6">Named Attribute</text>
<text class="t r" x="2092.7" y="855">Attribute</text>
<text class="t r" x="2092.7" y="864">Exists</text>
<rect class="dd" x="2042.3" y="871" width="51.4" height="6"/><text class="t" x="2044.3" y="875.7">Integer</text>
<rect class="nf" x="2042.3" y="881.3" width="51.4" height="6"/><text class="t" x="2044.3" y="886">Steps</text>
<use href="#dm" class="s sW" x="2097.7" y="853.3"/>
<use href="#dm" class="s sB" x="2097.7" y="862.3"/>
<circle class="s sS" cx="2038.3" cy="884.3" r="2"/>
</g>

<g id="add-steps">
<rect class="nb" x="2162.3" y="848.3" width="59.4" height="63.4"/>
<rect class="hd hCv" x="2162.3" y="848.3" width="59.4" height="7.7"/>
<use href="#chv" x="2166.8" y="852.2"/>
<text class="t h" x="2170.8" y="853.9">Add</text>
<text class="t r" x="2216.7" y="864">Value</text>
<rect class="dd" x="2166.3" y="871" width="51.4" height="6"/><text class="t" x="2168.3" y="875.7">Add</text>
<rect class="cb" x="2167.3" y="882.3" width="4" height="4"/><text class="t" x="2173.5" y="886">Clamp</text>
<text class="t" x="2167.3" y="896">Value</text>
<rect class="fd" x="2166.3" y="900.3" width="51.4" height="6"/><text class="t" x="2169.3" y="905">Value</text><text class="t r" x="2215.7" y="905">1.000</text>
<use href="#dm" class="s sW" x="2221.7" y="862.3"/>
<use href="#dm" class="s sW" x="2162.3" y="894.3"/>
<use href="#dm" class="s sW" x="2162.3" y="903.3"/>
</g>

<g id="named-attribute-steps-2">
<rect class="nb" x="2574" y="785" width="59.2" height="51.7"/>
<rect class="hd hIn" x="2574" y="785" width="59.2" height="7.7"/>
<use href="#chv" x="2578.5" y="788.9"/>
<text class="t h" x="2582.5" y="790.6">Named Attribute</text>
<text class="t r" x="2628.2" y="800.7">Attrib...</text>
<text class="t r" x="2628.2" y="810">Exists</text>
<rect class="dd" x="2578" y="817" width="51.2" height="6"/><text class="t" x="2580" y="821.7">Integer</text>
<rect class="nf" x="2578" y="827" width="51.2" height="6"/><text class="t" x="2580" y="831.7">Steps</text>
<use href="#dm" class="s sW" x="2633.2" y="799"/>
<use href="#dm" class="s sB" x="2633.2" y="808.3"/>
<circle class="s sS" cx="2574" cy="830" r="2"/>
</g>

<g id="index-right">
<rect class="nb" x="2719.6" y="806" width="58.3" height="22.3"/>
<rect class="hd hIn" x="2719.6" y="806" width="58.3" height="7.7"/>
<use href="#chv" x="2724.1" y="809.9"/>
<text class="t h" x="2728.1" y="811.6">Index</text>
<text class="t r" x="2772.9" y="821.7">Index</text>
<use href="#dm" class="s sW" x="2777.9" y="820"/>
</g>

<g id="divide">
<rect class="nb" x="2811.4" y="789" width="59.3" height="64.3"/>
<rect class="hd hCv" x="2811.4" y="789" width="59.3" height="7.7"/>
<use href="#chv" x="2815.9" y="792.9"/>
<text class="t h" x="2819.9" y="794.6">Divide</text>
<text class="t r" x="2865.7" y="804.7">Value</text>
<rect class="dd" x="2815.4" y="812" width="51.3" height="6"/><text class="t" x="2817.4" y="816.7">Divide</text>
<rect class="cb" x="2816.4" y="823" width="4" height="4"/><text class="t" x="2822.6" y="826.7">Clamp</text>
<text class="t" x="2816.4" y="836.7">Value</text>
<text class="t" x="2816.4" y="846.7">Value</text>
<use href="#dm" class="s sW" x="2870.7" y="803"/>
<use href="#dm" class="s sW" x="2811.4" y="835"/>
<use href="#dm" class="s sW" x="2811.4" y="845"/>
</g>

<g id="floor">
<rect class="nb" x="2911.4" y="785.7" width="59.3" height="55"/>
<rect class="hd hCv" x="2911.4" y="785.7" width="59.3" height="7.7"/>
<use href="#chv" x="2915.9" y="789.6"/>
<text class="t h" x="2919.9" y="791.3">Floor</text>
<text class="t r" x="2965.7" y="801.7">Value</text>
<rect class="dd" x="2915.4" y="809" width="51.3" height="6"/><text class="t" x="2917.4" y="813.7">Floor</text>
<rect class="cb" x="2916.4" y="820" width="4" height="4"/><text class="t" x="2922.6" y="823.7">Clamp</text>
<text class="t" x="2916.4" y="833.7">Value</text>
<use href="#dm" class="s sW" x="2970.7" y="800"/>
<use href="#dm" class="s sW" x="2911.4" y="832"/>
</g>

<g id="add-index">
<rect class="nb" x="3047.5" y="797.3" width="59.5" height="64.4"/>
<rect class="hd hCv" x="3047.5" y="797.3" width="59.5" height="7.7"/>
<use href="#chv" x="3052" y="801.2"/>
<text class="t h" x="3056" y="802.9">Add</text>
<text class="t r" x="3102" y="813.7">Value</text>
<rect class="dd" x="3051.5" y="821" width="51.5" height="6"/><text class="t" x="3053.5" y="825.7">Add</text>
<rect class="cb" x="3052.5" y="832" width="4" height="4"/><text class="t" x="3058.7" y="835.7">Clamp</text>
<text class="t" x="3052.5" y="845.7">Value</text>
<text class="t" x="3052.5" y="854.7">Value</text>
<use href="#dm" class="s sW" x="3107" y="812"/>
<use href="#dm" class="s sW" x="3047.5" y="844"/>
<use href="#dm" class="s sW" x="3047.5" y="853"/>
</g>

<g id="truncated-modulo">
<rect class="nb" x="2853.6" y="913.3" width="60.7" height="65"/>
<rect class="hd hCv" x="2853.6" y="913.3" width="60.7" height="7.7"/>
<use href="#chv" x="2858.1" y="917.2"/>
<text class="t h" x="2862.1" y="918.9">Truncated Modulo</text>
<text class="t r" x="2909.3" y="930">Value</text>
<rect class="dd" x="2857.6" y="937" width="52.7" height="6"/><text class="t" x="2859.6" y="941.7">Truncated Modulo</text>
<rect class="cb" x="2858.6" y="949" width="4" height="4"/><text class="t" x="2864.8" y="952.7">Clamp</text>
<text class="t" x="2858.6" y="961.7">Value</text>
<text class="t" x="2858.6" y="971.7">Value</text>
<use href="#dm" class="s sW" x="2914.3" y="928.3"/>
<use href="#dm" class="s sW" x="2853.6" y="960"/>
<use href="#dm" class="s sW" x="2853.6" y="970"/>
</g>

<g id="multiply-index">
<rect class="nb" x="2928.6" y="991.7" width="58.9" height="64.3"/>
<rect class="hd hCv" x="2928.6" y="991.7" width="58.9" height="7.7"/>
<use href="#chv" x="2933.1" y="995.6"/>
<text class="t h" x="2937.1" y="997.3">Multiply</text>
<text class="t r" x="2982.5" y="1007.7">Value</text>
<rect class="dd" x="2932.6" y="1015.3" width="50.9" height="6"/><text class="t" x="2934.6" y="1020">Multiply</text>
<rect class="cb" x="2933.6" y="1027" width="4" height="4"/><text class="t" x="2939.8" y="1030.7">Clamp</text>
<text class="t" x="2933.6" y="1040">Value</text>
<text class="t" x="2933.6" y="1049.7">Value</text>
<use href="#dm" class="s sW" x="2987.5" y="1006"/>
<use href="#dm" class="s sW" x="2928.6" y="1038.3"/>
<use href="#dm" class="s sW" x="2928.6" y="1048"/>
</g>

<g id="named-attribute-pointcount">
<rect class="nb" x="2765.4" y="1021.7" width="60.3" height="52.3"/>
<rect class="hd hIn" x="2765.4" y="1021.7" width="60.3" height="7.7"/>
<use href="#chv" x="2769.9" y="1025.6"/>
<text class="t h" x="2773.9" y="1027.3">Named Attribute</text>
<text class="t r" x="2820.7" y="1037.7">Attribute</text>
<text class="t r" x="2820.7" y="1046.7">Exists</text>
<rect class="dd" x="2769.4" y="1054" width="52.3" height="6"/><text class="t" x="2771.4" y="1058.7">Integer</text>
<rect class="nf" x="2769.4" y="1064" width="52.3" height="6"/><text class="t" x="2771.4" y="1068.7">PointCount</text>
<use href="#dm" class="s sW" x="2825.7" y="1036"/>
<use href="#dm" class="s sB" x="2825.7" y="1045"/>
<circle class="s sS" cx="2765.4" cy="1067" r="2"/>
</g>

<g id="store-named-newindex">
<rect class="nb" x="3225" y="721.7" width="59.3" height="81.6"/>
<rect class="hd hAt" x="3225" y="721.7" width="59.3" height="7.7"/>
<use href="#chv" x="3229.5" y="725.6"/>
<text class="t h" x="3233.5" y="727.3">Store Named Att...</text>
<text class="t r" x="3279.3" y="737.7">Geometry</text>
<rect class="dd" x="3229" y="745.3" width="51.3" height="6"/><text class="t" x="3231" y="750">Integer</text>
<rect class="dd" x="3229" y="755.3" width="51.3" height="6"/><text class="t" x="3231" y="760">Point</text>
<text class="t" x="3230" y="770">Geometry</text>
<text class="t" x="3230" y="779">Selection</text>
<rect class="nf" x="3229" y="784.3" width="51.3" height="6"/><text class="t" x="3231" y="789">NewIndex</text>
<text class="t" x="3230" y="797.7">Value</text>
<circle class="s sG" cx="3284.3" cy="736" r="2"/>
<circle class="s sG" cx="3225" cy="768.3" r="2"/>
<use href="#dm" class="s sW" x="3225" y="777.3"/>
<circle class="s sS" cx="3225" cy="787.3" r="2"/>
<circle class="s sH" cx="3225" cy="796" r="1.8"/>
</g>

<g id="scene-time-2">
<rect class="nb" x="3350" y="603.3" width="59.3" height="30"/>
<rect class="hd hIn" x="3350" y="603.3" width="59.3" height="7.7"/>
<use href="#chv" x="3354.5" y="607.2"/>
<text class="t h" x="3358.5" y="608.9">Scene Time</text>
<text class="t r" x="3404.3" y="619">Secon...</text>
<text class="t r" x="3404.3" y="629">Fra...</text>
<circle class="s sH" cx="3409.3" cy="617.3" r="1.8"/>
<circle class="s sH" cx="3409.3" cy="627.3" r="1.8"/>
</g>

<g id="equal">
<rect class="nb" x="3350" y="642.7" width="58.3" height="64"/>
<rect class="hd hCv" x="3350" y="642.7" width="58.3" height="7.7"/>
<use href="#chv" x="3354.5" y="646.6"/>
<text class="t h" x="3358.5" y="648.3">Equal</text>
<text class="t r" x="3403.3" y="658.7">Result</text>
<rect class="dd" x="3354" y="666" width="50.3" height="6"/><text class="t" x="3356" y="670.7">Integer</text>
<rect class="dd" x="3354" y="676" width="50.3" height="6"/><text class="t" x="3356" y="680.7">Equal</text>
<text class="t" x="3355" y="690.7">A</text>
<rect class="fd" x="3354" y="695.3" width="50.3" height="6"/><text class="t" x="3357" y="700">B</text><text class="t r" x="3402.3" y="700">0</text>
<circle class="s sB" cx="3408.3" cy="657" r="1.9"/>
<circle class="s sH" cx="3350" cy="689" r="1.8"/>
<circle class="s sH" cx="3350" cy="698.3" r="1.8"/>
</g>

<g id="switch-geometry">
<rect class="nb" x="3351.7" y="717.7" width="59.3" height="61.6"/>
<rect class="hd hCv" x="3351.7" y="717.7" width="59.3" height="7.7"/>
<use href="#chv" x="3356.2" y="721.6"/>
<text class="t h" x="3360.2" y="723.3">Switch</text>
<text class="t r" x="3406" y="733.7">Output</text>
<rect class="dd" x="3355.7" y="741" width="51.3" height="6"/><text class="t" x="3357.7" y="745.7">Geometry</text>
<text class="t" x="3356.7" y="755">Switch</text>
<text class="t" x="3356.7" y="764.7">False</text>
<text class="t" x="3356.7" y="774">True</text>
<circle class="s sG" cx="3411" cy="732" r="2"/>
<circle class="s sB" cx="3351.7" cy="753.3" r="2"/>
<circle class="s sG" cx="3351.7" cy="763" r="2"/>
<circle class="s sG" cx="3351.7" cy="772.3" r="2"/>
</g>

<g id="group-output">
<rect class="nb" x="3517.3" y="647.7" width="59.5" height="31.3"/>
<rect class="hd hGr" x="3517.3" y="647.7" width="59.5" height="7.7"/>
<use href="#chv" x="3521.8" y="651.6"/>
<text class="t h" x="3525.8" y="653.3">Group Output</text>
<text class="t" x="3522.3" y="662.7">Geometry</text>
<circle class="s sG" cx="3517.3" cy="661" r="2"/>
<circle class="s sK" cx="3517.3" cy="670.7" r="1.6"/>
</g>
</svg>
